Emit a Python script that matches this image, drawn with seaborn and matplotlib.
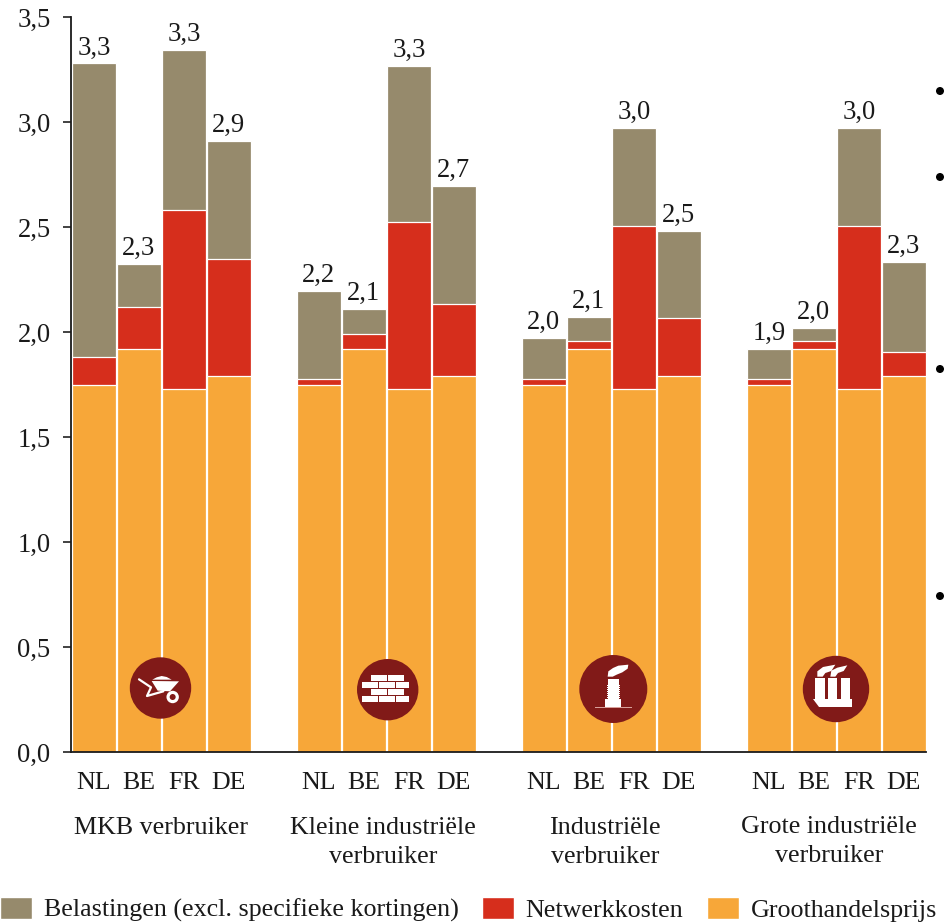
import numpy as np
import pandas as pd
import seaborn as sns
import matplotlib.pyplot as plt
from matplotlib.patches import Patch, Circle, Rectangle, Polygon

# DATA
groepen = ['MKB verbruiker', 'Kleine industriële\nverbruiker', 'Industriële\nverbruiker', 'Grote industriële\nverbruiker']
landen = ['NL', 'BE', 'FR', 'DE']
groothandel = [1.748, 1.92, 1.73, 1.79, 1.748, 1.92, 1.73, 1.79, 1.748, 1.92, 1.73, 1.79, 1.748, 1.92, 1.73, 1.79]
netwerk = [0.132, 0.20, 0.85, 0.56, 0.027, 0.07, 0.794, 0.343, 0.027, 0.037, 0.775, 0.277, 0.027, 0.037, 0.775, 0.115]
belasting = [1.40, 0.205, 0.763, 0.56, 0.42, 0.12, 0.743, 0.562, 0.196, 0.114, 0.466, 0.414, 0.144, 0.062, 0.466, 0.428]
totaal_labels = ['3,3', '2,3', '3,3', '2,9', '2,2', '2,1', '3,3', '2,7', '2,0', '2,1', '3,0', '2,5', '1,9', '2,0', '3,0', '2,3']
yticks = [0, 0.5, 1, 1.5, 2, 2.5, 3, 3.5]
ylabels = ['0,0', '0,5', '1,0', '1,5', '2,0', '2,5', '3,0', '3,5']

C_TAUPE = '#968A6C'
C_ROOD = '#D62E1C'
C_ORANJE = '#F7A739'
C_ICOON = '#811A18'
C_TEKST = '#1a1a1a'
W, H = 948, 924

sns.set_style('ticks')
plt.rcParams['font.family'] = ['Liberation Serif', 'DejaVu Serif']
FS = 18.7

slots = [g * 5 + i for g in range(4) for i in range(4)]
df = pd.DataFrame({'slot': slots, 'land': landen * 4,
                   'groothandel': groothandel, 'netwerk': netwerk, 'belasting': belasting})
df['tot_netwerk'] = df['groothandel'] + df['netwerk']
df['totaal'] = df['tot_netwerk'] + df['belasting']

fig = plt.figure(figsize=(W / 100, H / 100), dpi=100, facecolor='white')
ax = fig.add_axes([71.4 / W, (H - 752) / H, 855 / W, 735 / H])

# stacked bars, tallest layer first
for kol, kleur in [('totaal', C_TAUPE), ('tot_netwerk', C_ROOD), ('groothandel', C_ORANJE)]:
    sns.barplot(data=df, x='slot', y=kol, order=list(range(19)), color=kleur, saturation=1,
                width=0.98, edgecolor='white', linewidth=0.9, errorbar=None, ax=ax)

ax.set_xlim(-0.5, 18.5)
ax.set_ylim(0, 3.5)
ax.set_xlabel('')
ax.set_ylabel('')
ax.set_xticks(slots)
ax.set_xticklabels(landen * 4, fontsize=FS, color=C_TEKST)
ax.tick_params(axis='x', length=0, pad=14.5)
ax.set_yticks(yticks)
ax.set_yticklabels(ylabels, fontsize=FS + 0.5, color=C_TEKST)
ax.tick_params(axis='y', length=6, width=1.2, color='#222222', pad=9)
sns.despine(ax=ax)
for s in ['left', 'bottom']:
    ax.spines[s].set_linewidth(1.3)
    ax.spines[s].set_color('#1a1a1a')
    ax.spines[s].set_zorder(5)

for pos, tot, lab in zip(df['slot'], df['totaal'], totaal_labels):
    ax.annotate(lab, (pos, tot), xytext=(0, 2), textcoords='offset points',
                ha='center', va='bottom', fontsize=FS + 0.5, color=C_TEKST)


def px(x, y):
    return x / W, 1 - y / H


for (x, y), g in zip([(161, 817), (383, 817), (605, 817), (829, 816)], groepen):
    fig.text(*px(x, y), g, ha='center', va='top', fontsize=FS, color=C_TEKST, linespacing=1.4)

# legend
handles = [Patch(facecolor=C_TAUPE, label='Belastingen (excl. specifieke kortingen)'),
           Patch(facecolor=C_ROOD, label='Netwerkkosten'),
           Patch(facecolor=C_ORANJE, label='Groothandelsprijs')]
fig.legend(handles=handles, loc='lower left', bbox_to_anchor=(-0.003, -0.001), ncol=3, frameon=False,
           fontsize=FS, handlelength=1.23, handleheight=0.95, handletextpad=0.46,
           columnspacing=0.9, borderpad=0, borderaxespad=0.1, labelcolor=C_TEKST)

# overlay in pixels for the icons and the cut-off bullets
ov = fig.add_axes([0, 0, 1, 1], zorder=10)
ov.set_xlim(0, W)
ov.set_ylim(H, 0)
ov.axis('off')
ov.patch.set_alpha(0)

for x, y in [(940, 91), (940, 177), (940, 369), (940, 596)]:
    ov.add_patch(Circle((x, y), 4, color='black', lw=0))


# icon coordinates are 3x crop coordinates with an origin
def poly(punten, ox, oy, kleur='white'):
    ov.add_patch(Polygon([(ox + a / 3, oy + b / 3) for a, b in punten], closed=True, color=kleur, lw=0))


def rect(x0, x1, y0, y1, ox, oy, kleur='white'):
    ov.add_patch(Rectangle((ox + x0 / 3, oy + y0 / 3), (x1 - x0) / 3, (y1 - y0) / 3, color=kleur, lw=0))


def lijn(punten, ox, oy, lw, kleur='white'):
    ov.plot([ox + a / 3 for a, b in punten], [oy + b / 3 for a, b in punten], color=kleur, lw=lw,
            solid_capstyle='round', solid_joinstyle='round')


# wheelbarrow
ov.add_patch(Circle((160.5, 688), 30.7, color=C_ICOON, lw=0))
poly([(82, 83), (95, 76), (110, 72), (125, 75), (140, 83)], 125, 652)
poly([(80, 87), (162, 88), (135, 118), (98, 116)], 125, 652)
lijn([(42, 82), (78, 106), (66, 132), (115, 118)], 125, 652, 1.6)
ov.add_patch(Circle((125 + 143 / 3, 652 + 135 / 3), 6.2, color='white', lw=0))
ov.add_patch(Circle((125 + 143 / 3, 652 + 135 / 3), 3.0, color=C_ICOON, lw=0))

# bricks
ov.add_patch(Circle((387.7, 689.7), 30.7, color=C_ICOON, lw=0))
for y0, y1 in [(105, 123), (148, 165)]:
    rect(1113, 1161, y0, y1, 0, 640)
    rect(1164, 1212, y0, y1, 0, 640)
for y0, y1 in [(126, 144), (168, 186)]:
    rect(1086, 1134, y0, y1, 0, 640)
    rect(1137, 1185, y0, y1, 0, 640)
    rect(1188, 1227, y0, y1, 0, 640)

# one chimney
ov.add_patch(Circle((613.3, 689), 34, color=C_ICOON, lw=0))
rect(90, 137, 140, 165, 575, 652)
rect(96, 135, 98, 140, 575, 652)
rect(98, 132, 82, 98, 575, 652)
for b in range(102, 140, 6):
    rect(96, 99, b, b + 2, 575, 652, C_ICOON)
    rect(132, 135, b, b + 2, 575, 652, C_ICOON)
rect(60, 170, 165, 166.5, 575, 652, '#D9A09A')
poly([(98, 74), (100, 58), (114, 48), (130, 41), (160, 38), (158, 50), (142, 61), (125, 68), (113, 74)], 575, 652)

# factory
ov.add_patch(Circle((836, 689), 33.2, color=C_ICOON, lw=0))
for a in [52, 90, 128]:
    rect(a, a + 28, 78, 142, 798, 652)
    for b in range(98, 140, 6):
        rect(a, a + 3, b, b + 2, 798, 652, C_ICOON)
poly([(45, 140), (162, 140), (162, 165), (62, 165)], 798, 652)
poly([(58, 74), (58, 58), (75, 45), (112, 38), (100, 57), (82, 63), (74, 74)], 798, 652)
poly([(97, 74), (100, 56), (118, 47), (148, 40), (137, 57), (120, 63), (112, 74)], 798, 652)

fig.savefig('out.png', dpi=100, facecolor='white')
